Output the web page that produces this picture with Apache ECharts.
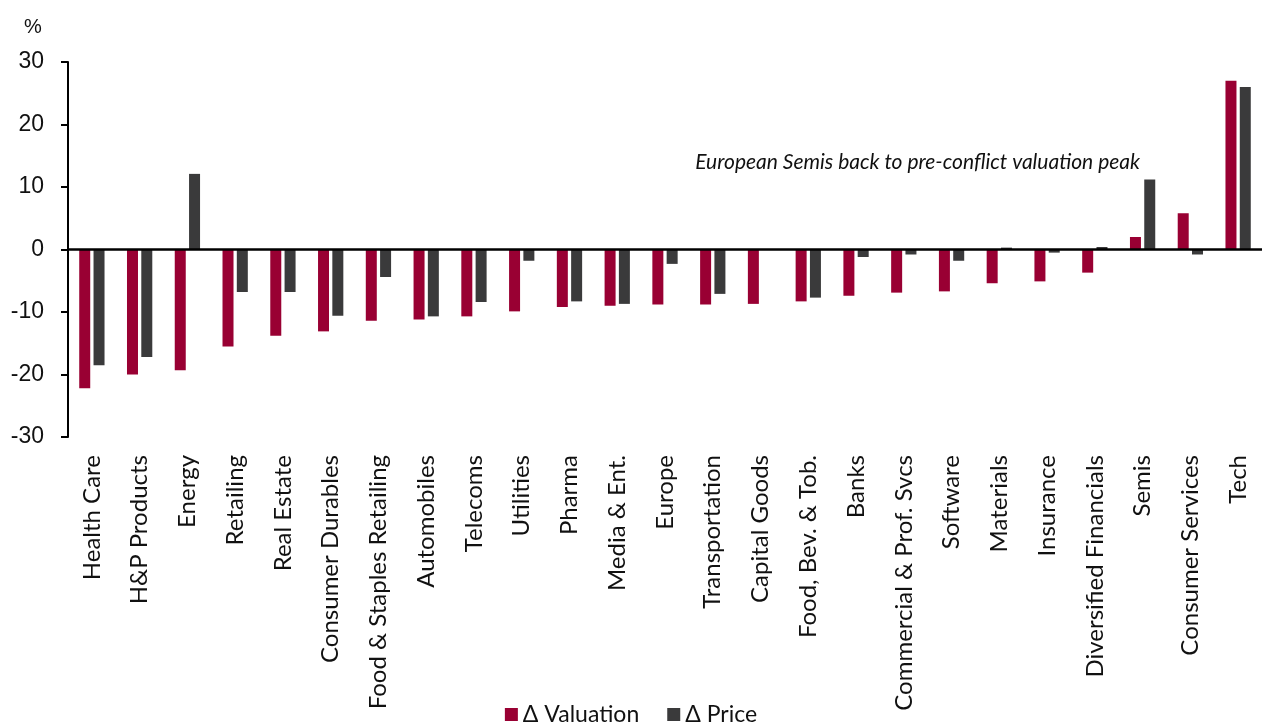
<!DOCTYPE html>
<html><head><meta charset="utf-8">
<script src="https://cdn.jsdelivr.net/npm/echarts@6/dist/echarts.min.js"></script>
<style>html,body{margin:0;padding:0;background:#fff}#c{width:1262px;height:724px}</style>
</head><body><div id="c"></div>
<script>
const categories = ["Health Care","H&P Products","Energy","Retailing","Real Estate","Consumer Durables","Food & Staples Retailing","Automobiles","Telecoms","Utilities","Pharma","Media & Ent.","Europe","Transportation","Capital Goods","Food, Bev. & Tob.","Banks","Commercial & Prof. Svcs","Software","Materials","Insurance","Diversified Financials","Semis","Consumer Services","Tech"];
const valuation = [-22.2,-20.0,-19.3,-15.5,-13.8,-13.1,-11.4,-11.2,-10.7,-9.9,-9.2,-9.0,-8.8,-8.8,-8.7,-8.3,-7.4,-6.9,-6.7,-5.4,-5.1,-3.7,2.0,5.8,27.0];
const price = [-18.5,-17.2,12.1,-6.8,-6.8,-10.6,-4.4,-10.7,-8.4,-1.8,-8.3,-8.7,-2.3,-7.1,0,-7.7,-1.2,-0.8,-1.8,0.3,-0.5,0.4,11.2,-0.8,26.0];
const yTicks = [-30,-20,-10,0,10,20,30];
const annotation = "European Semis back to pre-conflict valuation peak";
</script>
<script>
const chart = echarts.init(document.getElementById('c'));
chart.setOption({
  animation:false,
  grid:{left:68,right:-2,top:62,bottom:287,containLabel:false},
  legend:{top:698,left:'center',itemWidth:13,itemHeight:13,itemGap:28,icon:'rect',
    textStyle:{fontFamily:'Lato',fontSize:23,color:'#111'},
    data:['Δ Valuation','Δ Price']},
  xAxis:{type:'category',data:categories,
    axisLine:{show:false},axisTick:{show:false},
    axisLabel:{rotate:90,interval:0,margin:18,fontFamily:'Lato',fontSize:24,color:'#111'}},
  yAxis:{type:'value',min:yTicks[0],max:yTicks[yTicks.length-1],interval:10,
    axisLine:{show:true,lineStyle:{color:'#000',width:2}},
    axisTick:{show:true,inside:false,length:7,lineStyle:{color:'#000',width:2}},
    splitLine:{show:false},
    axisLabel:{fontFamily:'Liberation Sans',fontSize:23,color:'#111',margin:24}},
  series:[
    {name:'Δ Valuation',type:'bar',data:valuation,barWidth:11,barGap:'30%',
     itemStyle:{color:'#990033'},
     markLine:{silent:true,symbol:'none',label:{show:false},lineStyle:{color:'#000',width:2.5,type:'solid'},data:[{yAxis:0}]}},
    {name:'Δ Price',type:'bar',data:price,barWidth:11,itemStyle:{color:'#3a3a3b'}}
  ],
  graphic:[
    {type:'text',right:122,top:152,style:{text:annotation,fontFamily:'Lato',fontStyle:'italic',fontSize:21,fill:'#111'}},
    {type:'text',left:24,top:17,style:{text:'%',fontFamily:'Liberation Sans',fontSize:20,fill:'#111'}}
  ]
});
</script>
</body></html>
